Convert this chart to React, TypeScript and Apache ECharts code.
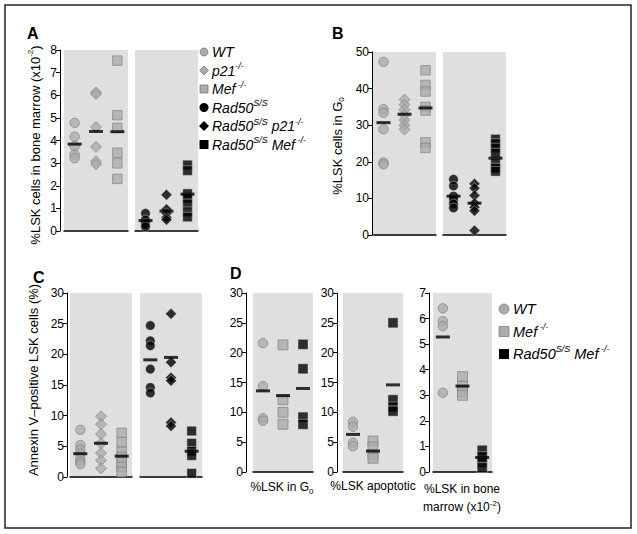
import React, { useEffect, useRef } from 'react';
import * as echarts from 'echarts';

// ---------- DATA ----------
const groupNames = ['WT', 'p21-/-', 'Mef-/-', 'Rad50S/S', 'Rad50S/S p21-/-', 'Rad50S/S Mef-/-'];

// Panel A: %LSK cells in bone marrow (x10^-2)
const A_WT = [4.78, 4.17, 3.75, 3.38, 3.22];
const A_P21 = [6.12, 6.05, 4.6, 3.72, 3.08, 2.95];
const A_MEF = [7.53, 5.12, 4.56, 3.46, 2.99, 2.3];
const A_R = [0.78, 0.49, 0.31, 0.19];
const A_RP21 = [1.6, 0.96, 0.78, 0.6, 0.5];
const A_RMEF = [2.92, 2.67, 1.65, 1.45, 1.2, 0.85, 0.62];
const A_MEANS = [3.84, 4.4, 4.39, 0.46, 0.88, 1.63];

// Panel B: %LSK cells in G0
const B_WT = [47.3, 34.4, 33.4, 28.9, 19.8, 19.3];
const B_P21 = [37, 35.6, 34.2, 32.8, 31.4, 30, 28.8];
const B_MEF = [45, 41, 39.2, 35, 34, 25.3, 23.8];
const B_R = [15.2, 13.4, 10.6, 9.6, 8.5, 7.4];
const B_RP21 = [14, 12.8, 10.8, 8.7, 7.6, 6.6, 1.2];
const B_RMEF = [26.2, 25, 23.8, 22.4, 19.6, 18.3, 17.4];
const B_MEANS = [30.7, 33, 34.7, 10.6, 8.7, 21];

// Panel C: Annexin V-positive LSK cells (%)
const C_WT = [7.7, 5.2, 4.5, 3.8, 3.0, 2.5, 2.1];
const C_P21 = [9.9, 8.6, 7, 5.5, 3.9, 2.7, 1.4];
const C_MEF = [7.2, 5.7, 4.1, 3.3, 2.4, 1.6, 0.8];
const C_R = [24.7, 22.2, 21.4, 17.6, 14.6, 13.7];
const C_RP21 = [26.6, 18.7, 16.2, 15.7, 8.9, 8.3];
const C_RMEF = [7.5, 5.5, 4.2, 3.5, 0.6];
const C_MEANS = [3.8, 5.5, 3.4, 19.1, 19.5, 4.2];

// Panel D (WT, Mef-/-, Rad50S/S Mef-/-)
const D1_WT = [21.6, 14.4, 9.0, 8.6];
const D1_MEF = [21.3, 12.1, 10.0, 8.0];
const D1_RMEF = [21.4, 17.3, 9.2, 8.0];
const D1_MEANS = [13.6, 12.8, 14.0];
const D2_WT = [8.4, 7.6, 4.9, 4.3];
const D2_MEF = [5.2, 4.2, 2.9, 2.3];
const D2_RMEF = [25, 12.1, 10.9, 10.2];
const D2_MEANS = [6.3, 3.5, 14.6];
const D3_WT = [6.4, 5.9, 5.7, 3.1];
const D3_MEF = [3.73, 3.35, 3.15, 3.0];
const D3_RMEF = [0.85, 0.6, 0.38, 0.17];
const D3_MEANS = [5.28, 3.36, 0.57];

const A_TICKS = { min: 0, max: 8, interval: 1 };
const B_TICKS = { min: 0, max: 50, interval: 10 };
const C_TICKS = { min: 0, max: 30, interval: 5 };
const D_TICKS = { min: 0, max: 30, interval: 5 };
const D3_TICKS = { min: 0, max: 7, interval: 1 };

// ---------- STYLE ----------
const FONT = '"Liberation Sans", Arial, Helvetica, sans-serif';
const GRAY_FILL = '#ababab';
const GRAY_BORDER = '#7c7c7c';
const PANEL_BG = '#dfdfdf';

type Kind = 'circle' | 'diamond' | 'rect';
const styleFor = (kind: Kind, black: boolean) => ({
  symbol: kind,
  symbolSize: kind === 'diamond' ? 11 : 9.5,
  itemStyle: black
    ? { color: '#000', borderColor: '#d8d8d8', borderWidth: 0.6 }
    : { color: GRAY_FILL, borderColor: GRAY_BORDER, borderWidth: 0.8 },
});

const App: React.FC = () => {
  const ref = useRef<HTMLDivElement>(null);

  useEffect(() => {
    if (!ref.current) return;
    const chart = echarts.init(ref.current, undefined, { renderer: 'svg' });

    const grids = [
      { left: 64, top: 50, width: 64, height: 181 }, // A1
      { left: 135, top: 50, width: 63, height: 181 }, // A2
      { left: 373, top: 52, width: 63, height: 183 }, // B1
      { left: 443, top: 52, width: 63, height: 183 }, // B2
      { left: 70, top: 293, width: 62, height: 184 }, // C1
      { left: 140, top: 293, width: 62, height: 184 }, // C2
      { left: 253, top: 293, width: 60, height: 179 }, // D1
      { left: 343, top: 293, width: 60, height: 179 }, // D2
      { left: 433, top: 293, width: 59, height: 179 }, // D3
    ];
    const yConf = [
      { t: A_TICKS, show: true, offset: 4 },
      { t: A_TICKS, show: false, offset: 0 },
      { t: B_TICKS, show: true, offset: 1 },
      { t: B_TICKS, show: false, offset: 0 },
      { t: C_TICKS, show: true, offset: 3 },
      { t: C_TICKS, show: false, offset: 0 },
      { t: D_TICKS, show: true, offset: 7 },
      { t: D_TICKS, show: true, offset: 6 },
      { t: D3_TICKS, show: true, offset: 4 },
    ];

    type G = { vals: number[]; kind: Kind; black: boolean };
    const panels: { groups: G[]; means: number[] }[] = [
      { groups: [{ vals: A_WT, kind: 'circle', black: false }, { vals: A_P21, kind: 'diamond', black: false }, { vals: A_MEF, kind: 'rect', black: false }], means: A_MEANS.slice(0, 3) },
      { groups: [{ vals: A_R, kind: 'circle', black: true }, { vals: A_RP21, kind: 'diamond', black: true }, { vals: A_RMEF, kind: 'rect', black: true }], means: A_MEANS.slice(3) },
      { groups: [{ vals: B_WT, kind: 'circle', black: false }, { vals: B_P21, kind: 'diamond', black: false }, { vals: B_MEF, kind: 'rect', black: false }], means: B_MEANS.slice(0, 3) },
      { groups: [{ vals: B_R, kind: 'circle', black: true }, { vals: B_RP21, kind: 'diamond', black: true }, { vals: B_RMEF, kind: 'rect', black: true }], means: B_MEANS.slice(3) },
      { groups: [{ vals: C_WT, kind: 'circle', black: false }, { vals: C_P21, kind: 'diamond', black: false }, { vals: C_MEF, kind: 'rect', black: false }], means: C_MEANS.slice(0, 3) },
      { groups: [{ vals: C_R, kind: 'circle', black: true }, { vals: C_RP21, kind: 'diamond', black: true }, { vals: C_RMEF, kind: 'rect', black: true }], means: C_MEANS.slice(3) },
      { groups: [{ vals: D1_WT, kind: 'circle', black: false }, { vals: D1_MEF, kind: 'rect', black: false }, { vals: D1_RMEF, kind: 'rect', black: true }], means: D1_MEANS },
      { groups: [{ vals: D2_WT, kind: 'circle', black: false }, { vals: D2_MEF, kind: 'rect', black: false }, { vals: D2_RMEF, kind: 'rect', black: true }], means: D2_MEANS },
      { groups: [{ vals: D3_WT, kind: 'circle', black: false }, { vals: D3_MEF, kind: 'rect', black: false }, { vals: D3_RMEF, kind: 'rect', black: true }], means: D3_MEANS },
    ];

    const series: any[] = [];
    panels.forEach((p, gi) => {
      p.groups.forEach((g, ci) => {
        const st = styleFor(g.kind, g.black);
        series.push({
          type: 'scatter',
          name: groupNames[ci],
          xAxisIndex: gi,
          yAxisIndex: gi,
          data: g.vals.map((v) => [ci, v]),
          ...st,
          symbolSize: gi >= 6 && g.kind === 'rect' ? 10 : st.symbolSize,
          z: 2,
          silent: true,
        });
      });
      series.push({
        type: 'scatter',
        xAxisIndex: gi,
        yAxisIndex: gi,
        data: p.means.map((m, ci) => [ci, m]),
        symbol: 'rect',
        symbolSize: [14, 3],
        itemStyle: { color: '#000' },
        z: 5,
        silent: true,
      });
    });

    const legendRich = (fs: number) => ({
      i: { fontFamily: FONT, fontStyle: 'italic', fontSize: fs, lineHeight: fs + 4, fill: '#000' },
      s: { fontFamily: FONT, fontStyle: 'italic', fontSize: Math.round(fs * 0.64), lineHeight: Math.round(fs * 0.64), verticalAlign: 'top', fill: '#000' },
    });
    const legendTexts = [
      '{i|WT}',
      '{i|p21}{s|-/-}',
      '{i|Mef}{s| -/-}',
      '{i|Rad50}{s|S/S}',
      '{i|Rad50}{s|S/S}{i| p21}{s|-/-}',
      '{i|Rad50}{s|S/S}{i| Mef}{s| -/-}',
    ];

    const icon = (kind: Kind, black: boolean, x: number, y: number, s: number): any => {
      const style = black ? { fill: '#000' } : { fill: GRAY_FILL, stroke: GRAY_BORDER, lineWidth: 0.8 };
      if (kind === 'circle') return { type: 'circle', shape: { cx: x, cy: y, r: s / 2 }, style };
      if (kind === 'rect') return { type: 'rect', shape: { x: x - s / 2, y: y - s / 2, width: s, height: s }, style };
      const h = s / 2 + 0.5;
      return { type: 'polygon', shape: { points: [[x, y - h], [x + h, y], [x, y + h], [x - h, y]] }, style };
    };

    const graphics: any[] = [];
    // frame
    graphics.push({ type: 'rect', shape: { x: 5, y: 5, width: 626, height: 523 }, style: { fill: 'none', stroke: '#222', lineWidth: 1.5 }, silent: true });
    // panel letters
    [['A', 27, 33], ['B', 332, 33], ['C', 33, 277], ['D', 230, 273]].forEach(([t, x, y]) => {
      graphics.push({ type: 'text', x: x as number, y: y as number, style: { text: t as string, font: `bold 16px ${FONT}`, fill: '#000', textAlign: 'left', textVerticalAlign: 'middle', align: 'left', verticalAlign: 'middle' } });
    });
    // legend A
    const kindsA: [Kind, boolean][] = [['circle', false], ['diamond', false], ['rect', false], ['circle', true], ['diamond', true], ['rect', true]];
    const rowsA = [52, 70.5, 89, 107.5, 126, 144.5];
    kindsA.forEach(([k, b], i) => {
      graphics.push(icon(k, b, 204, rowsA[i], b ? 9 : 8));
      graphics.push({ type: 'text', x: 212, y: rowsA[i], style: { text: legendTexts[i], rich: legendRich(14), textAlign: 'left', textVerticalAlign: 'middle', align: 'left', verticalAlign: 'middle' } });
    });
    // legend D
    const rowsD = [309, 331.5, 354];
    const kindsD: [Kind, boolean][] = [['circle', false], ['rect', false], ['rect', true]];
    const textsD = [legendTexts[0], legendTexts[2], legendTexts[5]];
    kindsD.forEach(([k, b], i) => {
      graphics.push(icon(k, b, 504, rowsD[i], 10));
      graphics.push({ type: 'text', x: 513, y: rowsD[i], style: { text: textsD[i], rich: legendRich(14.5), textAlign: 'left', textVerticalAlign: 'middle', align: 'left', verticalAlign: 'middle' } });
    });

    // axis titles
    const titleRich = (fs: number) => ({
      n: { fontFamily: FONT, fontSize: fs, lineHeight: fs + 4, fill: '#000' },
      p: { fontFamily: FONT, fontSize: Math.round(fs * 0.65), lineHeight: Math.round(fs * 0.65), verticalAlign: 'top', fill: '#000' },
      b: { fontFamily: FONT, fontSize: Math.round(fs * 0.65), lineHeight: Math.round(fs * 0.65), verticalAlign: 'bottom', fill: '#000' },
    });
    const rotText = (text: string, x: number, y: number, fs: number) => ({
      type: 'text', x, y, rotation: Math.PI / 2,
      style: { text, rich: titleRich(fs), textAlign: 'center', textVerticalAlign: 'middle', align: 'center', verticalAlign: 'middle' },
    });
    graphics.push(rotText('{n|%LSK cells in bone marrow (x10}{p|-2}{n|)}', 35, 145, 13));
    graphics.push(rotText('{n|%LSK cells in G}{b|0}', 337, 146, 13));
    graphics.push(rotText('{n|Annexin V–positive LSK cells (%)}', 33, 380, 13));

    const flatText = (text: string, x: number, y: number, fs: number) => ({
      type: 'text', x, y,
      style: { text, rich: titleRich(fs), textAlign: 'center', textVerticalAlign: 'middle', align: 'center', verticalAlign: 'middle' },
    });
    graphics.push(flatText('{n|%LSK in G}{b|0}', 282, 487, 12));
    graphics.push(flatText('{n|%LSK apoptotic}', 373, 486, 12));
    graphics.push(flatText('{n|%LSK in bone}', 462, 489, 12));
    graphics.push(flatText('{n|marrow (x10}{p|-2}{n|)}', 462, 507, 12));

    chart.setOption({
      animation: false,
      grid: grids.map((g) => ({ ...g, show: true, backgroundColor: PANEL_BG, borderWidth: 0, containLabel: false })),
      xAxis: grids.map((_, i) => ({
        type: 'category',
        gridIndex: i,
        data: ['a', 'b', 'c'],
        boundaryGap: true,
        axisLine: { show: true, lineStyle: { color: '#000', width: 1.5 } },
        axisTick: { show: false },
        axisLabel: { show: false },
        splitLine: { show: false },
      })),
      yAxis: yConf.map((c, i) => ({
        type: 'value',
        gridIndex: i,
        min: c.t.min,
        max: c.t.max,
        interval: c.t.interval,
        show: c.show,
        offset: c.offset,
        axisLine: { show: true, lineStyle: { color: '#000', width: 1 } },
        axisTick: { show: true, length: 4, lineStyle: { color: '#000', width: 1 } },
        axisLabel: { show: true, color: '#000', fontSize: 12, fontFamily: FONT, margin: 3 },
        splitLine: { show: false },
      })),
      series,
      graphic: graphics,
    });

    return () => chart.dispose();
  }, []);

  return (
    <div
      ref={ref}
      style={{ position: 'fixed', left: 0, top: 0, width: 637, height: 534, background: '#fff' }}
    />
  );
};

export default App;
